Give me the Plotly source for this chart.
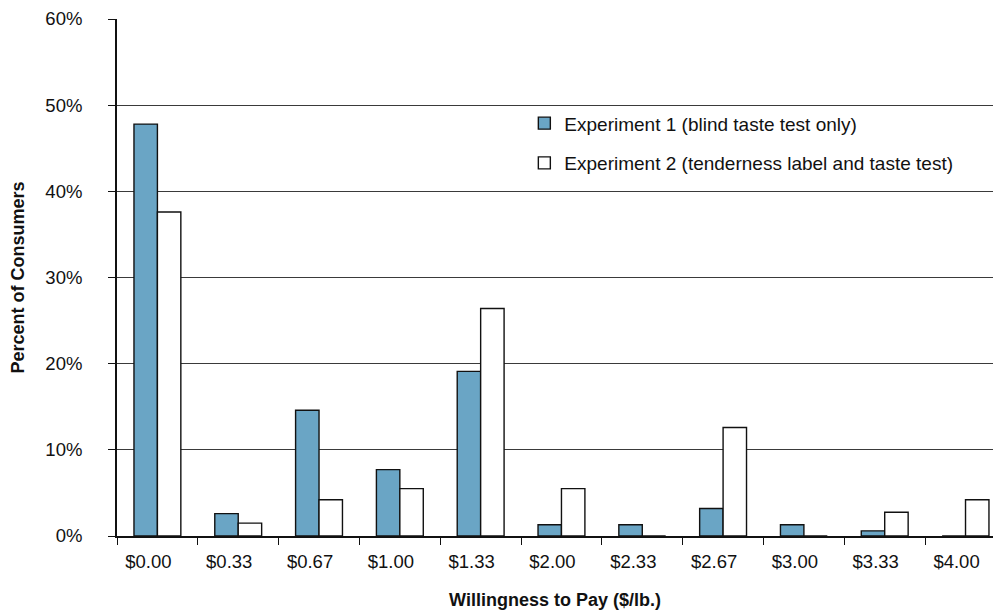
import plotly.graph_objects as go

# Willingness-to-pay price points ($/lb.)
price_labels = ["$0.00", "$0.33", "$0.67", "$1.00", "$1.33", "$2.00",
                "$2.33", "$2.67", "$3.00", "$3.33", "$4.00"]

# Percent of consumers choosing each price point
exp1_pct = [47.8, 2.6, 14.6, 7.7, 19.1, 1.3, 1.3, 3.2, 1.3, 0.6, 0.0]
exp2_pct = [37.6, 1.5, 4.2, 5.5, 26.4, 5.5, 0.0, 12.6, 0.0, 2.75, 4.2]

exp1_name = "Experiment 1 (blind taste test only)"
exp2_name = "Experiment 2 (tenderness label and taste test)"

FONT = "Liberation Sans, Arial, sans-serif"
BLUE = "#6aa5c5"

fig = go.Figure()
fig.add_trace(go.Bar(
    x=price_labels, y=exp1_pct, name=exp1_name, legendgroup="e1",
    marker=dict(color=BLUE, line=dict(color="#111111", width=1.4)),
))
fig.add_trace(go.Bar(
    x=price_labels, y=exp2_pct, name=exp2_name, legendgroup="e2",
    marker=dict(color="#ffffff", line=dict(color="#111111", width=1.4)),
))

fig.update_layout(
    width=993, height=611,
    margin=dict(l=117, r=0, t=19, b=75, pad=0),
    paper_bgcolor="white", plot_bgcolor="white",
    barmode="group", bargap=0.42, bargroupgap=0,
    font=dict(family=FONT, size=18.5, color="#111111"),
    showlegend=True,
    legend=dict(
        x=0.465, y=0.835, xanchor="left", yanchor="top",
        bgcolor="rgba(0,0,0,0)", borderwidth=0,
        font=dict(family=FONT, size=19, color="#111111"),
        traceorder="grouped", tracegroupgap=12,
    ),
)

fig.update_xaxes(
    type="category", range=[-0.5, 10.34],
    showline=True, linecolor="#111111", linewidth=1.5,
    ticks="outside", ticklen=7, tickcolor="#111111", tickwidth=1,
    tickson="boundaries", ticklabelshift=-9, ticklabelstandoff=8,
    showgrid=False, zeroline=False,
    title=dict(text="<b>Willingness to Pay ($/lb.)</b>",
               font=dict(family=FONT, size=18, color="#111111"), standoff=22),
)

fig.update_yaxes(
    range=[0, 60], dtick=10, ticksuffix="%",
    showline=True, linecolor="#111111", linewidth=1.8,
    ticks="outside", ticklen=7, tickcolor="#111111", tickwidth=1,
    ticklabelstandoff=22,
    showgrid=True, gridcolor="#3a3a3a", gridwidth=1,
    zeroline=False,
    title=dict(text="<b>Percent of Consumers</b>",
               font=dict(family=FONT, size=18, color="#111111"), standoff=16),
)

fig.write_html("out.html")
